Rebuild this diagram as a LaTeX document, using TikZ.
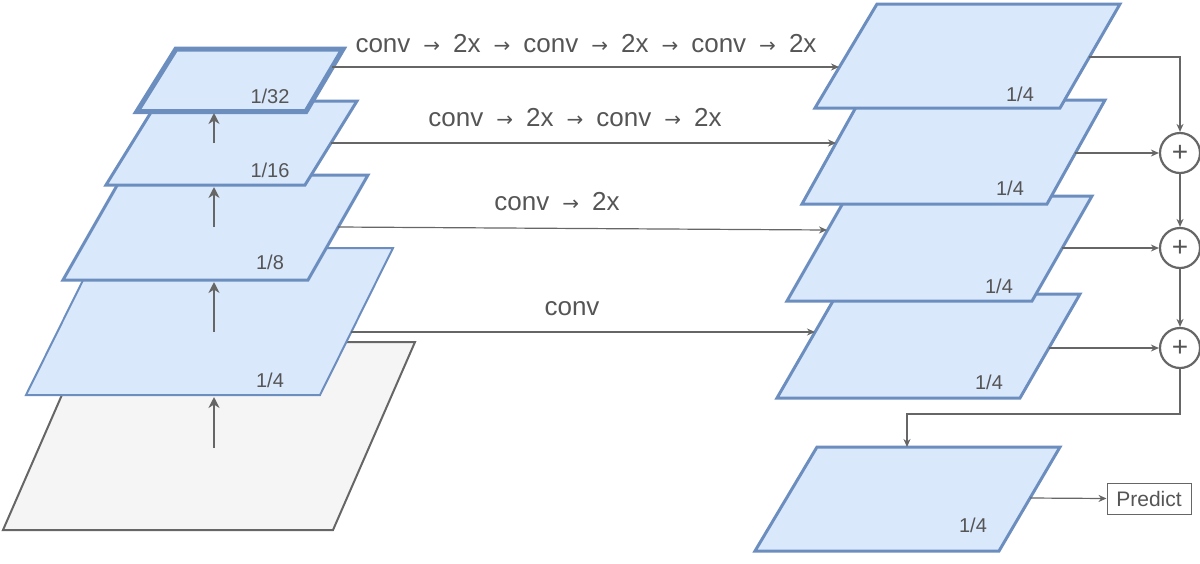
\documentclass[tikz,border=0pt]{standalone}
\usepackage{fontspec}
\setmainfont{Liberation Sans}
\newfontfamily\arrowfont{DejaVu Sans}
\usetikzlibrary{arrows.meta}
\definecolor{bfill}{HTML}{DAE8FC}
\definecolor{bline}{HTML}{6C8EBF}
\definecolor{gfill}{HTML}{F5F5F5}
\definecolor{gline}{HTML}{666666}
\definecolor{txt}{HTML}{555555}
\newcommand\myar{\hspace{13pt}{\arrowfont\fontsize{20}{22}\selectfont →}\hspace{13pt}}
\tikzset{
  layer/.style={draw=bline, fill=bfill, line width=3pt, line join=miter},
  base/.style={draw=gline, fill=gfill, line width=2pt},
  lbl/.style={text=txt, font=\fontsize{20}{24}\selectfont, inner sep=0pt, anchor=base},
  optxt/.style={text=txt, font=\fontsize{26}{30}\selectfont, inner sep=0pt, anchor=base},
  conn/.style={draw=gline, line width=1.2pt, -{Stealth[length=8pt,width=7pt]}},
  up/.style={draw=gline, line width=2.4pt, -{Stealth[length=11pt,width=11pt]}},
  plus/.style={circle, draw=gline, line width=2.2pt, minimum size=40pt, inner sep=0pt, text=txt, font=\fontsize{28}{30}\selectfont},
  predbox/.style={draw=gline, line width=1pt, minimum width=84pt, minimum height=31pt, inner sep=0pt, text=txt, font=\fontsize{21}{24}\selectfont}
}
\begin{document}
\begin{tikzpicture}[x=1pt,y=-1pt]
\useasboundingbox (0,0) rectangle (1200,563);

% ---------- left pyramid ----------
\draw[base] (85,342) -- (415,342) -- (333,530) -- (3,530) -- cycle;
\draw[layer, line width=2pt] (99,248) -- (393,248) -- (320,395) -- (26,395) -- cycle;
\node[lbl] (l4) at (270,387) {1/4};
\draw[layer] (123,175) -- (368,175) -- (308,280) -- (63,280) -- cycle;
\node[lbl] (l8) at (270,269) {1/8};
\draw[layer] (158,101) -- (357,101) -- (305,185) -- (106,185) -- cycle;
\node[lbl] (l16) at (270,177) {1/16};
\draw[layer, line width=5pt] (176,49) -- (343,49) -- (306,111.5) -- (137,111.5) -- cycle;
\node[lbl] (l32) at (270,103) {1/32};

% upward arrows
\coordinate (u1a) at (214,448); \coordinate (u1b) at (214,397);
\coordinate (u2a) at (214,332); \coordinate (u2b) at (214,282);
\coordinate (u3a) at (214,227); \coordinate (u3b) at (214,187);
\coordinate (u4a) at (214,143); \coordinate (u4b) at (214,113);
\draw[up] (u1a) -- (u1b);
\draw[up] (u2a) -- (u2b);
\draw[up] (u3a) -- (u3b);
\draw[up] (u4a) -- (u4b);

% ---------- right stack ----------
\draw[layer] (837,294) -- (1080,294) -- (1020,398) -- (777,398) -- cycle;
\node[lbl] (r4l) at (989,389) {1/4};
\draw[layer] (847,196) -- (1092,196) -- (1032,301) -- (787,301) -- cycle;
\node[lbl] (r3l) at (999,293) {1/4};
\draw[layer] (860,100) -- (1105,100) -- (1047,204) -- (802,204) -- cycle;
\node[lbl] (r2l) at (1010,195) {1/4};
\draw[layer] (877,4) -- (1120,4) -- (1060,108) -- (815,108) -- cycle;
\node[lbl] (r1l) at (1020,101) {1/4};
\draw[layer] (817,447) -- (1060,447) -- (999,551) -- (755,551) -- cycle;
\node[lbl] (r5l) at (973,532) {1/4};

% ---------- lateral connectors ----------
\coordinate (a32) at (332,67);  \coordinate (r1in) at (839,67);
\coordinate (a16) at (331,143); \coordinate (r2in) at (836,143);
\coordinate (a8)  at (338,227); \coordinate (r3in) at (827,230);
\coordinate (a4)  at (351,332); \coordinate (r4in) at (815,332);
\draw[conn] (a32) -- (r1in);
\draw[conn] (a16) -- (r2in);
\draw[conn] (a8) -- (r3in);
\draw[conn] (a4) -- (r4in);

\node[optxt] (t1) at (586,52) {conv\myar 2x\myar conv\myar 2x\myar conv\myar 2x};
\node[optxt] (t2) at (575,126) {conv\myar 2x\myar conv\myar 2x};
\node[optxt] (t3) at (557,210) {conv\myar 2x};
\node[optxt] (t4) at (572,315) {conv};

% ---------- sum nodes ----------
\node[plus] (c1) at (1180,153) {+};
\node[plus] (c2) at (1180,248) {+};
\node[plus] (c3) at (1180,348) {+};

\coordinate (r1out) at (1089,57);
\coordinate (r2out) at (1075,153);
\coordinate (r3out) at (1062,248);
\coordinate (r4out) at (1049,348);
\coordinate (turn) at (907,414);
\coordinate (r5in) at (907,447);
\coordinate (r5out) at (1030,498);

\draw[conn] (r1out) -| (c1.north);
\draw[conn] (r2out) -- (c1.west);
\draw[conn] (c1.south) -- (c2.north);
\draw[conn] (r3out) -- (c2.west);
\draw[conn] (c2.south) -- (c3.north);
\draw[conn] (r4out) -- (c3.west);
\draw[conn] (c3.south) |- (turn) -- (r5in);

\node[predbox] (pred) at (1149,498.5) {Predict};
\draw[conn] (r5out) -- (pred.west);
\end{tikzpicture}
\end{document}
